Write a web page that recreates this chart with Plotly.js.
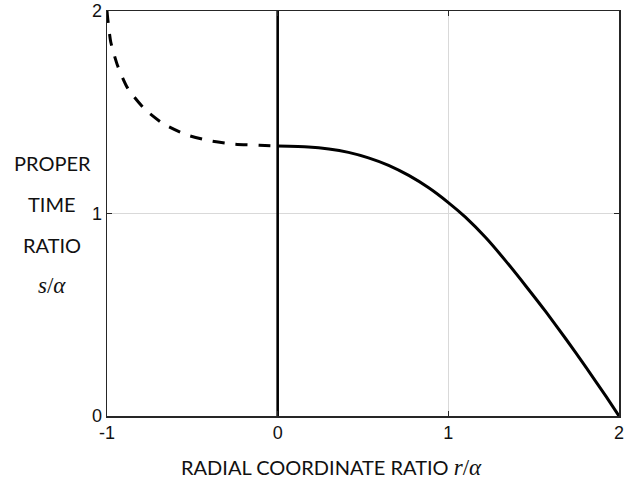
<!DOCTYPE html>
<html>
<head>
<meta charset="utf-8">
<script src="https://cdn.plot.ly/plotly-3.0.1.min.js"></script>
<style>html,body{margin:0;padding:0;background:#fff;}#chart{width:636px;height:491px;}</style>
</head>
<body>
<div id="chart"></div>
<script>
// Solid curve (r/α >= 0)
const solidX = [0, 0.18, 0.3, 0.415, 0.532, 0.65, 0.768, 0.885, 1.0, 1.1, 1.22, 1.337, 1.455, 1.572, 1.69, 1.808, 1.926, 2];
const solidY = [1.333, 1.329, 1.319, 1.302, 1.275, 1.238, 1.188, 1.127, 1.054, 0.982, 0.880, 0.765, 0.641, 0.514, 0.379, 0.239, 0.094, 0];
// Dashed curve (r/α < 0)
const dashX = [-1, -0.996, -0.978, -0.937, -0.879, -0.78, -0.67, -0.536, -0.397, -0.252, -0.107, 0];
const dashY = [2.0, 1.965, 1.847, 1.728, 1.619, 1.516, 1.443, 1.389, 1.359, 1.342, 1.337, 1.333];
// Vertical line at r/α = 0
const vertX = [0, 0];
const vertY = [0, 2];
// Ticks
const xTicks = [-1, 0, 1, 2];
const xTickText = ['-1', '0', '1', '2'];
const yTicks = [0, 1, 2];
const yTickText = ['0', '1', '2'];
// Titles
const yTitleLines = ['PROPER', 'TIME', 'RATIO', '<i>s</i>/<i>α</i>'];
const xTitleText = 'RADIAL COORDINATE RATIO <span style="font-family:\'Liberation Serif\';font-size:23px"><i>r</i>/<i>α</i></span>';

const titleFont = {family: 'Lato, "Open Sans", sans-serif', size: 20, color: '#111'};
const mathFont = {family: 'Liberation Serif, serif', size: 23, color: '#111'};
const tickFont = {family: 'Liberation Sans, Arial, sans-serif', size: 18, color: '#111'};

const traces = [
  {x: dashX, y: dashY, mode: 'lines', line: {color: '#000', width: 3, dash: '12px,11px', shape: 'spline', smoothing: 0.6}, hoverinfo: 'skip'},
  {x: solidX, y: solidY, mode: 'lines', line: {color: '#000', width: 3, shape: 'spline', smoothing: 0.6}, hoverinfo: 'skip'},
  {x: vertX, y: vertY, mode: 'lines', line: {color: '#000', width: 2.6}, hoverinfo: 'skip'}
];

const yPos = [0.625, 0.523, 0.422, 0.323];
const annotations = yTitleLines.map((t, i) => ({
  text: t, xref: 'paper', yref: 'paper', x: -0.107, y: yPos[i],
  xanchor: 'center', yanchor: 'middle', showarrow: false,
  font: i === 3 ? mathFont : titleFont
}));
annotations.push({
  text: xTitleText, xref: 'paper', yref: 'paper', x: 0.439, y: -0.128,
  xanchor: 'center', yanchor: 'middle', showarrow: false, font: titleFont
});

const axisCommon = {
  showgrid: true, gridcolor: '#d9d9d9', gridwidth: 1, zeroline: false,
  showline: true, linecolor: '#262626', linewidth: 1.5, mirror: 'ticks',
  ticks: 'inside', ticklen: 5, tickcolor: '#262626', tickwidth: 1,
  tickfont: tickFont
};

const layout = {
  width: 636, height: 491,
  margin: {l: 107, r: 17, t: 11, b: 75},
  paper_bgcolor: '#fff', plot_bgcolor: '#fff',
  showlegend: false,
  xaxis: Object.assign({range: [-1, 2], tickvals: xTicks, ticktext: xTickText}, axisCommon),
  yaxis: Object.assign({range: [0, 2], tickvals: yTicks, ticktext: yTickText}, axisCommon),
  annotations: annotations
};

Plotly.newPlot('chart', traces, layout, {staticPlot: true, displayModeBar: false});
</script>
</body>
</html>
